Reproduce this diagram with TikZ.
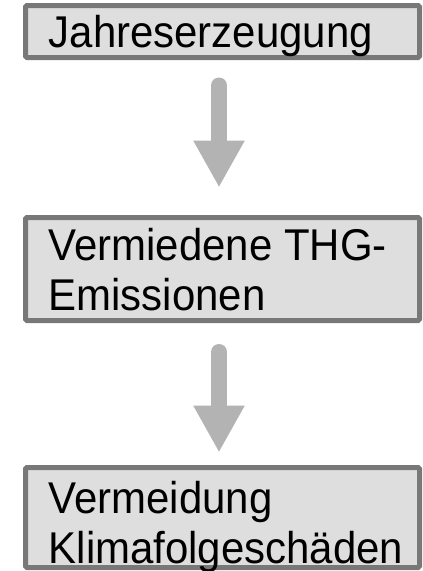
\documentclass[tikz,border=0pt]{standalone}
\usepackage{fontspec}
\newfontfamily\boxfont[FakeStretch=0.943]{Liberation Sans}
\usetikzlibrary{arrows.meta}
\definecolor{boxborder}{HTML}{787878}
\definecolor{boxfill}{HTML}{DEDEDE}
\definecolor{arrowgray}{HTML}{B3B3B3}
\tikzset{
  flowbox/.style={draw=boxborder, fill=boxfill, line width=5pt, rounded corners=1.5pt,
    minimum width=394pt, inner sep=0pt, rectangle},
  boxtext/.style={anchor=base west, inner sep=0pt, align=left,
    font=\boxfont\fontsize{44.5}{50}\selectfont, text=black},
  flowarrow/.style={draw=arrowgray, line width=16pt, line cap=round,
    -{Triangle[width=48pt,length=47pt]}}
}
\begin{document}
\begin{tikzpicture}[x=1pt,y=-1pt]
\useasboundingbox (0,0) rectangle (423,571);
\node[flowbox, minimum height=52pt] (b1) at (222.5,31.5) {};
\node[flowbox, minimum height=103pt] (b2) at (222.5,269) {};
\node[flowbox, minimum height=100pt] (b3) at (222.5,517.5) {};
\node[boxtext] (t1) at (48.5,47) {Jahreserzeugung};
\node[boxtext] (t2) at (48.5,310) {Vermiedene THG-\\Emissionen};
\node[boxtext] (t3) at (48.5,563) {Vermeidung\\Klimafolgeschäden};
\draw[flowarrow, shorten <=25.5pt, shorten >=27.5pt] ([xshift=-3.5pt]b1.south) -- ([xshift=-3.5pt]b2.north);
\draw[flowarrow, shorten <=29pt, shorten >=12.5pt] ([xshift=-3.5pt]b2.south) -- ([xshift=-3.5pt]b3.north);
\end{tikzpicture}
\end{document}
